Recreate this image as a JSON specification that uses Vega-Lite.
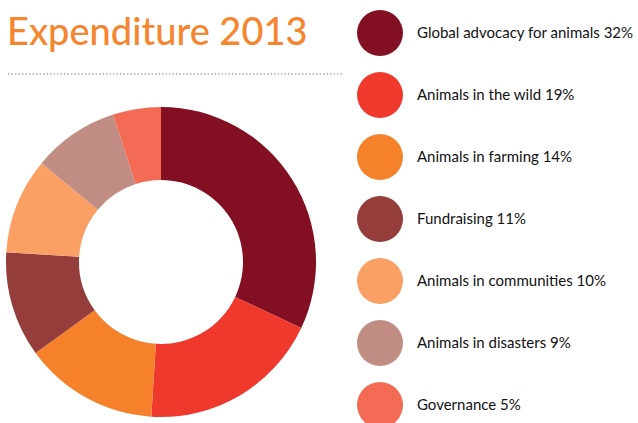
{
  "$schema": "https://vega.github.io/schema/vega-lite/v6.json",
  "autosize": {"type": "none"},
  "width": 322,
  "height": 310,
  "padding": {"left": 0, "top": 107, "right": 316, "bottom": 6},
  "background": "white",
  "config": {"view": {"stroke": null}},
  "layer": [
    {
      "data": {"values": [
        {"idx": 1, "label": "Global advocacy for animals 32%", "value": 32},
        {"idx": 2, "label": "Animals in the wild 19%", "value": 19},
        {"idx": 3, "label": "Animals in farming 14%", "value": 14},
        {"idx": 4, "label": "Fundraising 11%", "value": 11},
        {"idx": 5, "label": "Animals in communities 10%", "value": 10},
        {"idx": 6, "label": "Animals in disasters 9%", "value": 9},
        {"idx": 7, "label": "Governance 5%", "value": 5}
      ]},
      "mark": {"type": "arc", "outerRadius": 155, "innerRadius": 82, "strokeWidth": 0},
      "encoding": {
        "theta": {"field": "value", "type": "quantitative", "stack": true},
        "order": {"field": "idx", "type": "quantitative", "sort": "ascending"},
        "color": {
          "field": "label",
          "type": "nominal",
          "scale": {
            "domain": ["Global advocacy for animals 32%", "Animals in the wild 19%", "Animals in farming 14%", "Fundraising 11%", "Animals in communities 10%", "Animals in disasters 9%", "Governance 5%"],
            "range": ["#830F22", "#EF392C", "#F5812A", "#953D3B", "#FAA064", "#C18D82", "#F36B54"]
          },
          "legend": {
            "orient": "none",
            "legendX": 357,
            "legendY": -97,
            "title": null,
            "padding": 0,
            "symbolType": "circle",
            "symbolSize": 2116,
            "symbolStrokeWidth": 0,
            "symbolOpacity": 1,
            "rowPadding": 16,
            "labelOffset": 14,
            "labelFont": "Lato",
            "labelFontSize": 15,
            "labelColor": "#111111",
            "labelLimit": 400
          }
        }
      }
    },
    {
      "data": {"values": [{"t": "Expenditure 2013"}]},
      "mark": {"type": "text", "align": "left", "baseline": "alphabetic", "font": "Lato", "fontSize": 38, "fontWeight": 500, "color": "#F5862F"},
      "encoding": {
        "text": {"field": "t"},
        "x": {"value": 7},
        "y": {"value": -62}
      }
    },
    {
      "data": {"values": [{"d": 1}]},
      "mark": {"type": "rule", "color": "#ADADAD", "strokeWidth": 1.5, "strokeDash": [1.5, 2]},
      "encoding": {
        "x": {"value": 8},
        "x2": {"value": 343},
        "y": {"value": -33}
      }
    }
  ]
}
